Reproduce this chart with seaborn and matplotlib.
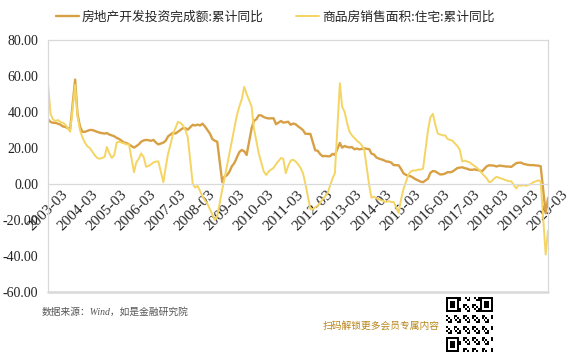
import numpy as np
import pandas as pd
import seaborn as sns
from matplotlib import pyplot as plt

# monthly cumulative yoy (%), 2003-03 .. 2020-03, Jan folded into Feb
invest_yoy = [
    36, 34.5, 34, 34, 33.5, 33, 32, 31.7, 31, 30.5,                # 2003 Mar-Dec
    58, 39, 32, 29, 29, 29.5, 30, 30, 29.5, 29, 28.5,              # 2004
    28, 28.3, 27.5, 27, 26.5, 25.6, 25, 24, 23, 22.7, 22,          # 2005
    20.2, 21, 22, 23.5, 24.2, 24.5, 24.3, 24, 24.5, 23, 22,        # 2006
    23, 24, 26.5, 27.5, 28.5, 28, 29, 30, 31, 31, 30.2,            # 2007
    32.9, 32.5, 33, 32.5, 33.5, 32, 30, 28, 25, 24, 23.5,          # 2008
    1.0, 4.1, 4.9, 6.8, 9.9, 11.6, 14.7, 17.7, 18.9, 18.2, 16.1,   # 2009
    31, 35, 36, 38.2, 38.1, 37.2, 36.7, 36.4, 36.5, 36.5, 33.2,    # 2010
    35, 34.1, 34.3, 34.6, 32.9, 33.6, 33.2, 32, 31.1, 29.9, 27.9,  # 2011
    27.8, 23.5, 18.7, 18.5, 16.6, 15.4, 15.6, 15.4, 15.4, 16.7, 16.2,  # 2012
    22.8, 20.2, 21.1, 20.6, 20.3, 20.5, 19.3, 19.7, 19.2, 19.5, 19.8,  # 2013
    19.3, 16.8, 16.4, 14.7, 14.1, 13.7, 13.2, 12.5, 12.4, 11.9, 10.5,  # 2014
    10.4, 8.5, 6.0, 5.1, 4.6, 4.3, 3.5, 2.6, 2.0, 1.3, 1.0,        # 2015
    3.0, 6.2, 7.2, 7.0, 6.1, 5.3, 5.4, 5.8, 6.6, 6.5, 6.9,         # 2016
    8.9, 9.1, 9.3, 8.8, 8.5, 7.9, 7.9, 8.1, 7.8, 7.5, 7.0,         # 2017
    9.9, 10.4, 10.3, 10.2, 9.7, 10.2, 10.1, 9.9, 9.7, 9.7, 9.5,    # 2018
    11.6, 11.8, 11.9, 11.2, 10.9, 10.6, 10.5, 10.5, 10.3, 10.2, 9.9,  # 2019
    -16.3, -7.7,                                                   # 2020 Feb-Mar
]
sales_yoy = [
    56, 39, 36, 35, 35.5, 34.5, 34, 33, 31, 29,
    55, 38, 30, 26, 23, 21, 20, 18, 16, 14.5, 14,
    15, 20.5, 17, 14.5, 16, 23, 23.5, 23, 22.5, 22, 22,
    6.5, 12, 14, 17, 15, 9.6, 10, 11, 12, 12.5, 12.5,
    1, 9, 17, 22, 28, 31, 34.5, 34, 32.6, 30, 26,
    0, -2, -1, -4, -7, -9, -11, -14, -17, -20, -18,
    -3, 3, 10, 17, 24, 31, 38, 43, 47, 54, 50,
    43, 31, 24, 17, 12, 7, 5, 7, 8, 9, 11,
    14.5, 14, 6, 10, 13, 13.5, 12.5, 11, 9, 6, 0,
    -14, -14, -13, -12, -10.5, -8.5, -7, -5, -1, 3, 6,
    56, 43, 40, 34, 29, 27, 25.6, 24, 23, 21.5, 19,
    -1, -7.7, -7, -8, -8.5, -9, -9.5, -10, -9.5, -10, -10,
    -16, -9, -3, 1, 5, 7, 7.5, 7.5, 8, 8, 8.5,
    30, 37, 39, 33, 28, 27.5, 27, 27, 25, 24.5, 24,
    21, 19, 12.5, 13, 12.5, 12, 11, 10, 9, 7.7, 6,
    3, 1, 1.5, 3, 4, 3.5, 3, 2.5, 2, 1.5, 1.5,
    -2.5, -0.6, -1, -0.5, -1, -0.5, 0, 1, 1.5, 2, 1.5,
    -39.2, -26,
]
dates = [d for d in pd.date_range('2003-03-01', '2020-03-01', freq='MS') if d.month != 1]

label_invest = '房地产开发投资完成额:累计同比'
label_sales = '商品房销售面积:住宅:累计同比'
y_ticks = [-60, -40, -20, 0, 20, 40, 60, 80]
x_ticks = pd.date_range('2003-03-01', '2020-03-01', freq='12MS')

df = pd.DataFrame({'date': dates, label_invest: invest_yoy, label_sales: sales_yoy})

sns.set_theme(style='white')
plt.rcParams['font.family'] = ['Liberation Serif', 'Noto Sans CJK SC', 'DejaVu Sans']

fig = plt.figure(figsize=(5.85, 3.55), dpi=100)
ax = fig.add_axes([48 / 585, 63 / 355, 500 / 585, 252 / 355])

sns.lineplot(x='date', y=label_invest, data=df, ax=ax, color='#D8A045', linewidth=1.7, label=label_invest)
sns.lineplot(x='date', y=label_sales, data=df, ax=ax, color='#F4D563', linewidth=1.4, label=label_sales)

ax.set_xlim(pd.Timestamp('2003-03-01'), pd.Timestamp('2020-03-01'))
ax.set_ylim(-60, 80)
ax.tick_params(axis='y', length=0, pad=7)
ax.set_yticks(y_ticks)
ax.set_yticklabels(['%.2f' % v for v in y_ticks], fontsize=10, color='#222222')

ax.tick_params(axis='x', length=3, direction='in', color='#d9d9d9', pad=3, labelrotation=45)
ax.set_xticks(x_ticks)
ax.set_xticklabels([d.strftime('%Y-%m') for d in x_ticks], fontsize=10, color='#222222')
for t in ax.get_xticklabels():
    t.set_rotation(45)
    t.set_ha('right')
    t.set_va('top')
    t.set_rotation_mode('anchor')

ax.spines['bottom'].set_position(('data', 0))
for side in ['left', 'right', 'top', 'bottom']:
    ax.spines[side].set_color('#d9d9d9')
    ax.spines[side].set_linewidth(0.9)
ax.axhline(-60, color='#d9d9d9', linewidth=1.8, clip_on=False)
ax.set_xlabel(None)
ax.set_ylabel(None)

handles, labels = ax.get_legend_handles_labels()
ax.get_legend().remove()
fig.legend(handles, labels, loc='center', bbox_to_anchor=(0.47, 0.952), ncol=2, frameon=False,
           handlelength=1.8, handletextpad=0.2, columnspacing=2.6,
           prop={'family': ['Noto Sans CJK SC'], 'size': 9.2})

fig.text(42 / 585, 1 - 312 / 355, '数据来源：Wind，如是金融研究院', fontsize=7, color='#555555',
         va='center', ha='left', style='italic')
fig.text(440 / 585, 1 - 326 / 355, '扫码解锁更多会员专属内容', fontsize=7, color='#B8861B',
         va='center', ha='right', family=['Noto Sans CJK SC'])

# QR code style badge
n = 25
grid = np.zeros((n, n))
for i in range(n):
    for j in range(n):
        grid[i, j] = 1 if ((i * 7 + j * 13 + i * j) % 5) < 2 else 0
for (r, c) in [(0, 0), (0, n - 7), (n - 7, 0)]:
    grid[r:r + 7, c:c + 7] = 1
    grid[r + 1:r + 6, c + 1:c + 6] = 0
    grid[r + 2:r + 5, c + 2:c + 5] = 1
qax = fig.add_axes([446 / 585, 3 / 355, 47 / 585, 55 / 355])
qax.imshow(grid, cmap='Greys', interpolation='nearest', aspect='auto')
qax.axis('off')

fig.savefig('out.png', dpi=100)
